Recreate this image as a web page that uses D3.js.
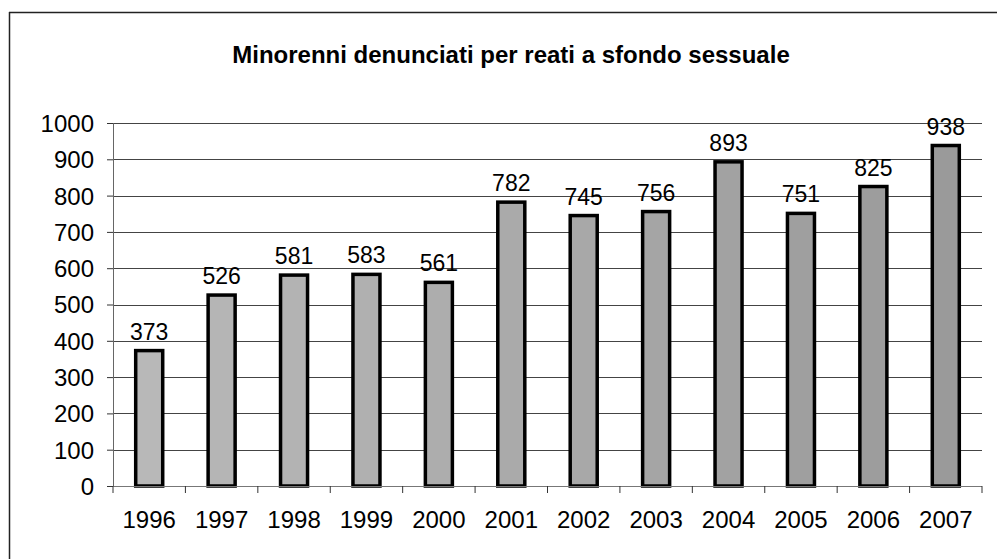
<!DOCTYPE html>
<html><head><meta charset="utf-8">
<script src="https://cdn.jsdelivr.net/npm/d3@7"></script>
<style>html,body{margin:0;padding:0;background:#fff}svg{display:block}</style>
</head><body>
<svg id="c" width="997" height="559"></svg>
<script>
const title = "Minorenni denunciati per reati a sfondo sessuale";
const years = ["1996","1997","1998","1999","2000","2001","2002","2003","2004","2005","2006","2007"];
const values = [373,526,581,583,561,782,745,756,893,751,825,938];
const yTicks = [0,100,200,300,400,500,600,700,800,900,1000];

const svg = d3.select("#c");
const font = "'Liberation Sans', Arial, sans-serif";
const L = 113, R = 982, T = 123, B = 486;

// frame (top and left edges visible)
svg.append("line").attr("x1",9).attr("x2",997).attr("y1",12.5).attr("y2",12.5).attr("stroke","#222").attr("stroke-width",1.5);
svg.append("line").attr("x1",9.5).attr("x2",9.5).attr("y1",12).attr("y2",559).attr("stroke","#222").attr("stroke-width",1.5);

svg.append("text").attr("x",511).attr("y",63).attr("text-anchor","middle")
  .attr("font-family",font).attr("font-weight","bold").attr("font-size",24).attr("fill","#000").text(title);

const y = d3.scaleLinear().domain([0,1000]).range([B,T]);
const xb = d3.scaleBand().domain(years).range([L,R]).padding(0);
const x = d3.scaleBand().domain(years).range([L,R]).paddingInner(0.627).paddingOuter(0.3135);
const fillScale = d3.scaleLinear().domain([0, years.length-1]).range(["#b8b8b8","#9a9a9a"]);

// gridlines
svg.append("g").selectAll("line").data(yTicks.filter(d=>d>0)).join("line")
  .attr("x1",L).attr("x2",R).attr("y1",d=>Math.round(y(d))+0.5).attr("y2",d=>Math.round(y(d))+0.5)
  .attr("stroke","#444").attr("stroke-width",1);

// y axis
const yAxis = svg.append("g").attr("transform",`translate(${L},0)`)
  .call(d3.axisLeft(y).tickValues(yTicks).tickFormat(d3.format("d")).tickSize(6).tickPadding(13));
yAxis.select(".domain").attr("stroke","#666");
yAxis.selectAll(".tick line").attr("stroke","#333");
yAxis.selectAll("text").attr("font-family",font).attr("font-size",24).attr("fill","#000").attr("dy","0.35em");

// bars
svg.append("g").selectAll("rect").data(values).join("rect")
  .attr("x",(d,i)=>x(years[i])).attr("width",x.bandwidth())
  .attr("y",d=>y(d)).attr("height",d=>B-y(d))
  .attr("fill",(d,i)=>fillScale(i)).attr("stroke","#000").attr("stroke-width",3.5);

// x axis
svg.append("line").attr("x1",L).attr("x2",R).attr("y1",B+0.5).attr("y2",B+0.5).attr("stroke","#777");
const bounds = years.map(d=>xb(d)).concat([R]);
svg.append("g").selectAll("line").data(bounds).join("line")
  .attr("x1",d=>d).attr("x2",d=>d).attr("y1",B).attr("y2",B+7).attr("stroke","#333");
svg.append("g").selectAll("text").data(years).join("text")
  .attr("x",d=>xb(d)+xb.bandwidth()/2).attr("y",528).attr("text-anchor","middle")
  .attr("font-family",font).attr("font-size",24).attr("fill","#000").text(d=>d);

// value labels
svg.append("g").selectAll("text").data(values).join("text")
  .attr("x",(d,i)=>x(years[i])+x.bandwidth()/2).attr("y",d=>y(d)-11).attr("text-anchor","middle")
  .attr("font-family",font).attr("font-size",23).attr("fill","#000").text(d=>d);
</script>
</body></html>
